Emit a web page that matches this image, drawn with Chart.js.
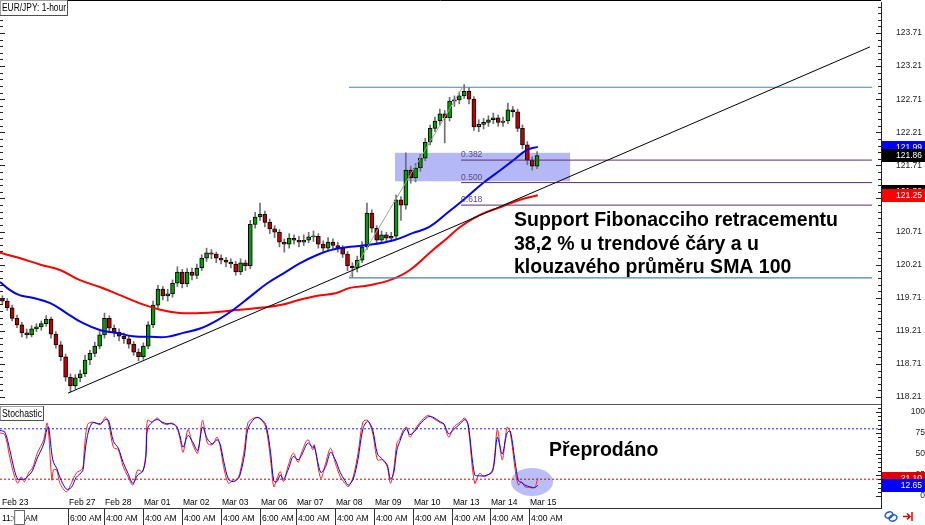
<!DOCTYPE html>
<html>
<head>
<meta charset="utf-8">
<title>EUR/JPY 1-hour</title>
<script src="https://cdn.jsdelivr.net/npm/chart.js@4.4.1/dist/chart.umd.min.js"></script>
<style>
  html, body { margin: 0; padding: 0; background: #fff; }
  #wrap { position: relative; width: 925px; height: 525px; overflow: hidden; }
  #priceBox { position: absolute; left: 0; top: 0; width: 925px; height: 405px; }
  #stochBox { position: absolute; left: 0; top: 404px; width: 925px; height: 121px; }
</style>
</head>
<body>
<div id="wrap">
  <div id="priceBox"><canvas id="priceChart"></canvas></div>
  <div id="stochBox"><canvas id="stochChart"></canvas></div>
</div>
<script>
// EUR/JPY 1-hour in 3-hour buckets (x axis = hours since Feb 23 11:00)
var opens = [
  119.70,119.66,119.56,119.40,119.30,119.18,119.15,119.24,119.27,119.32,
  119.39,119.16,119.00,118.82,118.51,118.38,118.50,118.56,118.77,118.87,
  118.98,119.15,119.40,119.25,119.19,119.13,119.09,119.01,118.89,118.82,
  118.98,119.30,119.60,119.84,119.74,119.77,119.93,120.10,119.92,120.10,
  120.05,120.16,120.31,120.39,120.37,120.31,120.28,120.25,120.22,120.10,
  120.24,120.19,120.82,120.93,120.97,120.85,120.75,120.70,120.55,120.52,
  120.61,120.58,120.55,120.58,120.63,120.64,120.52,120.46,120.55,120.50,
  120.46,120.37,120.19,120.16,120.28,120.48,120.99,120.76,120.58,120.66,
  120.61,120.64,121.19,121.11,121.64,121.52,121.67,121.82,122.06,122.27,
  122.38,122.49,122.43,122.68,122.70,122.76,122.83,122.71,122.29,122.33,
  122.36,122.40,122.43,122.36,122.38,122.55,122.52,122.27,122.02,121.79,
  121.70
];
var highs = [
  119.74,119.70,119.60,119.45,119.34,119.24,119.29,119.32,119.36,119.44,
  119.42,119.20,119.05,118.86,118.56,118.55,118.62,118.84,118.92,119.04,
  119.20,119.48,119.44,119.30,119.24,119.18,119.14,119.05,118.94,119.03,
  119.35,119.66,119.90,119.88,119.84,119.98,120.18,120.14,120.15,120.16,
  120.22,120.36,120.46,120.44,120.40,120.36,120.32,120.30,120.26,120.30,
  120.28,120.88,121.00,121.14,121.02,120.90,120.80,120.74,120.60,120.68,
  120.66,120.64,120.66,120.70,120.72,120.68,120.57,120.62,120.60,120.55,
  120.50,120.41,120.24,120.34,120.56,121.14,121.04,120.80,120.72,120.70,
  120.70,121.26,121.24,121.90,121.70,121.74,121.88,122.12,122.32,122.44,
  122.56,122.54,122.74,122.76,122.82,122.93,122.88,122.75,122.40,122.42,
  122.46,122.50,122.47,122.44,122.65,122.60,122.56,122.32,122.07,121.84,
  121.92
];
var lows = [
  119.62,119.52,119.36,119.26,119.12,119.10,119.12,119.20,119.22,119.28,
  119.10,118.95,118.76,118.45,118.29,118.33,118.44,118.52,118.70,118.82,
  118.94,119.10,119.18,119.12,119.06,119.02,118.95,118.84,118.76,118.78,
  118.94,119.26,119.55,119.68,119.66,119.72,119.88,119.86,119.88,119.98,
  120.00,120.12,120.26,120.30,120.24,120.22,120.18,120.16,120.05,120.06,
  120.12,120.15,120.76,120.88,120.78,120.68,120.62,120.48,120.40,120.46,
  120.52,120.48,120.50,120.54,120.56,120.46,120.40,120.42,120.44,120.40,
  120.32,120.12,120.02,120.10,120.24,120.44,120.70,120.52,120.54,120.55,
  120.56,120.60,120.88,121.05,121.44,121.46,121.62,121.78,122.02,122.22,
  122.32,122.05,122.38,122.60,122.64,122.72,122.64,122.24,122.22,122.26,
  122.30,122.34,122.30,122.30,122.34,122.44,122.22,121.96,121.72,121.64,
  121.66
];
var closes = [
  119.66,119.56,119.40,119.30,119.18,119.15,119.24,119.27,119.32,119.39,
  119.16,119.00,118.82,118.51,118.38,118.50,118.56,118.77,118.87,118.98,
  119.15,119.40,119.25,119.19,119.13,119.09,119.01,118.89,118.82,118.98,
  119.30,119.60,119.84,119.74,119.77,119.93,120.10,119.92,120.10,120.05,
  120.16,120.31,120.39,120.37,120.31,120.28,120.25,120.22,120.10,120.24,
  120.19,120.82,120.93,120.97,120.85,120.75,120.70,120.55,120.52,120.61,
  120.58,120.55,120.58,120.63,120.64,120.52,120.46,120.55,120.50,120.46,
  120.37,120.19,120.16,120.28,120.48,120.99,120.76,120.58,120.66,120.61,
  120.64,121.19,121.11,121.64,121.52,121.67,121.82,122.06,122.27,122.38,
  122.49,122.43,122.68,122.70,122.76,122.83,122.71,122.29,122.33,122.36,
  122.40,122.43,122.36,122.38,122.55,122.52,122.27,122.02,121.79,121.70,
  121.86
];

// moving averages (SMA 100 blue, SMA 200 red)
var sma100Hours = [0,6,12,20,31,41,51,62,72,82,93,103,113,124,134,144,154,165,175,185,196,204,216,228,243,255,265,276,288,298,309,317,325,332];
var sma100 = [119.95,119.83,119.75,119.71,119.63,119.48,119.33,119.22,119.18,119.13,119.12,119.12,119.18,119.25,119.37,119.53,119.72,119.93,120.08,120.23,120.36,120.43,120.48,120.51,120.58,120.69,120.78,120.99,121.23,121.44,121.64,121.79,121.94,121.99];
var sma200Hours = [0,12,25,37,49,62,74,86,99,111,124,136,148,161,173,185,196,207,216,228,241,253,267,276,284,296,309,321,332];
var sma200 = [120.39,120.31,120.21,120.13,119.98,119.87,119.75,119.63,119.53,119.48,119.48,119.50,119.53,119.56,119.60,119.68,119.74,119.78,119.86,119.90,119.98,120.13,120.43,120.61,120.78,120.96,121.08,121.19,121.26];

// drawn objects
var trendHours = [42, 537];
var trendValues = [118.27, 123.50];
var swingHours = [215.4, 538.3];
var swingValues = [122.89, 120.01];
var fibHours = [284.6, 538.3];
var fibLevels = [121.79, 121.45, 121.11];
var fibNames = ['0.382', '0.500', '0.618'];
var fibZone = { from: 243.8, to: 351.9, top: 121.90, bottom: 121.47 };

// stochastic %K (red) and %D (blue)
var stochHours = [0,3,6,9,11,13,15,18,20,23,27,29,30,32,33,35,37,41,44,47,51,52,54,57,62,65,67,70,73,76,79,82,85,88,90,91,94,97,100,103,106,109,111,113,116,119,122,125,128,131,134,136,138,141,144,146,148,151,153,157,160,164,167,169,171,173,175,178,181,184,186,190,193,194,198,201,204,207,210,213,215,218,221,224,227,230,233,236,239,241,243,245,247,249,251,253,256,259,264,267,272,274,277,280,284,287,289,293,296,299,304,307,310,313,315,318,320,322,324,327,330,332];
var stochK = [75,73,46,23,15,23,17,29,33,51,67,87,75,19,31,31,15,5,15,27,33,55,85,88,85,94,87,58,55,35,23,13,31,29,51,90,88,93,87,85,87,82,69,52,79,61,51,90,63,61,70,58,35,15,19,19,27,58,87,93,93,82,43,11,21,29,17,37,51,40,51,67,55,61,21,39,57,39,23,15,11,23,51,88,90,75,43,43,35,15,31,63,69,79,82,70,79,87,96,93,87,85,70,82,88,93,82,15,27,23,31,79,43,82,75,31,13,17,11,10,10,21.1];
var stochD = [78,76,55,30,20,20,20,25,30,45,62,80,82,50,40,33,22,8,10,22,30,45,72,87,86,91,90,65,57,40,27,15,25,29,45,80,88,91,88,86,86,83,72,58,72,64,54,82,68,62,67,61,42,20,17,19,24,50,80,92,93,85,52,18,17,25,20,32,47,43,48,63,58,59,28,35,52,43,28,18,13,20,44,80,89,79,50,44,37,20,27,55,66,76,80,73,77,85,94,94,88,86,74,79,86,91,85,25,24,24,29,70,50,75,77,40,18,16,13,11,10,12.65];
var stochLevels = [80, 20];
var oversoldMark = { hour: 328.4, value: 16.7 };

// axis labels
var priceTicks = [118.21,118.71,119.21,119.71,120.21,120.71,121.21,121.71,122.21,122.71,123.21,123.71];
var stochTicks = [0, 25, 50, 75, 100];
var tickHours = [0,42.2,64.2,88.1,112.3,136.2,160.5,182.7,206.8,230.9,255.1,278.8,302.5,326.7];
var dateLabels = ['Feb 23','Feb 27','Feb 28','Mar 01','Mar 02','Mar 03','Mar 06','Mar 07','Mar 08','Mar 09','Mar 10','Mar 13','Mar 14','Mar 15'];
var timeLabels = ['11:00 AM','6:00 AM','4:00 AM','4:00 AM','4:00 AM','4:00 AM','6:00 AM','4:00 AM','4:00 AM','4:00 AM','4:00 AM','4:00 AM','4:00 AM','4:00 AM'];

var noteLines = ['Support Fibonacciho retracementu', '38,2 % u trendové čáry a u', 'klouzavého průměru SMA 100'];
var stochNote = 'Přeprodáno';

var X_MAX = 543.8;
var FONT = "'Liberation Sans', Arial, sans-serif";
Chart.defaults.font.family = FONT;

function pts(xs, ys) {
  return xs.map(function (x, i) { return { x: x, y: ys[i] }; });
}
function flatLine(xs, v) {
  return [{ x: xs[0], y: v }, { x: xs[1], y: v }];
}
// right-hand axis: fixed width, no extra vertical padding for the labels
function fixAxis(s) {
  s.width = 44;
  s.paddingTop = 0;
  s.paddingBottom = 0;
}

function labelBox(ctx, x, y, w, h, text) {
  ctx.fillStyle = '#fff';
  ctx.fillRect(x, y, w, h);
  ctx.strokeStyle = '#a0a0a0';
  ctx.lineWidth = 1;
  ctx.strokeRect(x + 0.5, y + 0.5, w - 1, h - 1);
  ctx.strokeStyle = '#505050';
  ctx.beginPath();
  ctx.moveTo(x + w - 0.5, y); ctx.lineTo(x + w - 0.5, y + h - 0.5); ctx.lineTo(x, y + h - 0.5);
  ctx.stroke();
  ctx.fillStyle = '#000';
  ctx.font = '10px ' + FONT;
  ctx.textAlign = 'left';
  ctx.textBaseline = 'middle';
  ctx.fillText(text, x + 2, y + h / 2 + 0.5, w - 4);
}

function priceTag(ctx, area, py, text, bg) {
  ctx.fillStyle = bg;
  ctx.fillRect(area.right + 1, Math.round(py) - 6, 44, 13);
  ctx.fillStyle = '#fff';
  ctx.font = '8.5px ' + FONT;
  ctx.textAlign = 'right';
  ctx.textBaseline = 'middle';
  ctx.fillText(text, 922, Math.round(py) + 0.5);
}

var candleHours = closes.map(function (c, i) { return i * 3 + 1.5; });

var priceDecor = {
  id: 'priceDecor',
  beforeDatasetsDraw: function (chart) {
    var ctx = chart.ctx, xs = chart.scales.x, ys = chart.scales.y;
    var x0 = xs.getPixelForValue(fibZone.from), x1 = xs.getPixelForValue(fibZone.to);
    var y0 = ys.getPixelForValue(fibZone.top), y1 = ys.getPixelForValue(fibZone.bottom);
    ctx.save();
    ctx.fillStyle = 'rgba(120,125,240,0.55)';
    ctx.fillRect(x0, y0, x1 - x0, y1 - y0);
    ctx.restore();
  },
  afterDraw: function (chart) {
    var ctx = chart.ctx, xs = chart.scales.x, ys = chart.scales.y, area = chart.chartArea;
    ctx.save();
    // fib level names
    ctx.fillStyle = '#5c4a8a';
    ctx.font = '8.5px ' + FONT;
    ctx.textAlign = 'left';
    ctx.textBaseline = 'bottom';
    fibLevels.forEach(function (v, i) {
      ctx.fillText(fibNames[i], xs.getPixelForValue(fibHours[0]), ys.getPixelForValue(v) - 1);
    });
    // small ticks on both edges
    ctx.strokeStyle = '#222';
    ctx.lineWidth = 1;
    for (var k = -1; k <= 60; k++) {
      var py = Math.round(ys.getPixelForValue(priceTicks[0] + k * 0.1)) + 0.5;
      if (py < area.top || py > area.bottom) continue;
      var major = ((k % 5) + 5) % 5 === 0;
      ctx.beginPath();
      ctx.moveTo(area.right - (major ? 5 : 3), py); ctx.lineTo(area.right, py);
      ctx.moveTo(0, py); ctx.lineTo(major ? 5 : 3, py);
      ctx.stroke();
    }
    // frame
    ctx.strokeStyle = '#000';
    ctx.beginPath(); ctx.moveTo(0, 0.5); ctx.lineTo(area.right, 0.5); ctx.stroke();
    ctx.strokeStyle = '#666';
    ctx.beginPath(); ctx.moveTo(0, 404.5); ctx.lineTo(area.right, 404.5); ctx.stroke();
    // price tags on the axis
    priceTag(ctx, area, ys.getPixelForValue(sma100[sma100.length - 1]), sma100[sma100.length - 1].toFixed(2), '#0000ff');
    priceTag(ctx, area, ys.getPixelForValue(closes[closes.length - 1]), closes[closes.length - 1].toFixed(2), '#000');
    priceTag(ctx, area, ys.getPixelForValue(121.32), '121.32', '#000');
    priceTag(ctx, area, ys.getPixelForValue(sma200[sma200.length - 1]), '121.25', '#ff0000');
    // title box
    labelBox(ctx, 0, 0, 68, 16, 'EUR/JPY: 1-hour');
    // note
    ctx.fillStyle = '#000';
    ctx.font = 'bold 19.5px ' + FONT;
    ctx.textAlign = 'left';
    ctx.textBaseline = 'alphabetic';
    ctx.fillText(noteLines[0], 514, 226, 326);
    ctx.fillText(noteLines[1], 514, 249.5, 326);
    ctx.fillText(noteLines[2], 514, 273, 326);
    ctx.restore();
  }
};

var priceDatasets = [
  { type: 'line', data: pts(trendHours, trendValues), borderColor: '#000', borderWidth: 1, pointRadius: 0, order: 0 },
  { type: 'line', data: [{ x: swingHours[0], y: swingValues[1] }, { x: 285.5, y: swingValues[0] }], borderColor: '#a0a0a0', borderWidth: 1, pointRadius: 0, order: 0 },
  { type: 'line', data: flatLine(swingHours, swingValues[0]), borderColor: '#4682b4', borderWidth: 1.2, pointRadius: 0, order: 0 },
  { type: 'line', data: flatLine(swingHours, swingValues[1]), borderColor: '#4682b4', borderWidth: 1.2, pointRadius: 0, order: 0 },
  { type: 'line', data: flatLine(fibHours, fibLevels[0]), borderColor: '#5a2f6a', borderWidth: 1, pointRadius: 0, order: 0 },
  { type: 'line', data: flatLine(fibHours, fibLevels[1]), borderColor: '#5a2f6a', borderWidth: 1, pointRadius: 0, order: 0 },
  { type: 'line', data: flatLine(fibHours, fibLevels[2]), borderColor: '#5a2f6a', borderWidth: 1, pointRadius: 0, order: 0 },
  { type: 'line', data: pts(sma100Hours, sma100), borderColor: '#0000ff', borderWidth: 2, pointRadius: 0, tension: 0.4, order: 1 },
  { type: 'line', data: pts(sma200Hours, sma200), borderColor: '#ff0000', borderWidth: 2, pointRadius: 0, tension: 0.4, order: 1 },
  {
    type: 'bar',
    data: candleHours.map(function (h, i) { return { x: h, y: [opens[i], closes[i]] }; }),
    backgroundColor: function (c) { return closes[c.dataIndex] >= opens[c.dataIndex] ? '#00a000' : '#c00000'; },
    borderColor: '#000',
    borderWidth: 1,
    borderSkipped: false,
    barThickness: 4,
    minBarLength: 1,
    grouped: false,
    order: 2
  },
  {
    type: 'bar',
    data: candleHours.map(function (h, i) { return { x: h, y: [lows[i], highs[i]] }; }),
    backgroundColor: '#707070',
    borderWidth: 0,
    barThickness: 1,
    grouped: false,
    order: 3
  }
];

new Chart(document.getElementById('priceChart'), {
  type: 'bar',
  data: { datasets: priceDatasets },
  options: {
    responsive: true,
    maintainAspectRatio: false,
    animation: false,
    layout: { autoPadding: false, padding: { top: 2, bottom: 1, left: 0, right: 0 } },
    plugins: { legend: { display: false }, tooltip: { enabled: false } },
    scales: {
      x: { type: 'linear', min: 0, max: X_MAX, offset: false, display: false, grid: { offset: false } },
      y: {
        position: 'right',
        min: 118.106,
        max: 124.178,
        beginAtZero: false,
        afterBuildTicks: function (s) { s.ticks = priceTicks.map(function (v) { return { value: v }; }); },
        afterFit: fixAxis,
        grid: { drawOnChartArea: false, drawTicks: false },
        border: { color: '#222', width: 1 },
        ticks: {
          padding: 15,
          color: '#222',
          font: { size: 8.5 },
          callback: function (v) { return v.toFixed(2); }
        }
      }
    }
  },
  plugins: [priceDecor]
});

var stochDecor = {
  id: 'stochDecor',
  beforeDatasetsDraw: function (chart) {
    var ctx = chart.ctx, xs = chart.scales.x, ys = chart.scales.y;
    ctx.save();
    ctx.fillStyle = 'rgba(100,110,240,0.45)';
    ctx.beginPath();
    ctx.ellipse(xs.getPixelForValue(oversoldMark.hour), ys.getPixelForValue(oversoldMark.value), 21, 14, 0, 0, Math.PI * 2);
    ctx.fill();
    ctx.restore();
  },
  afterDraw: function (chart) {
    var ctx = chart.ctx, xs = chart.scales.x, ys = chart.scales.y, area = chart.chartArea;
    ctx.save();
    // minor ticks
    ctx.strokeStyle = '#222';
    ctx.lineWidth = 1;
    for (var v = 0; v <= 105; v += 5) {
      var py = Math.round(ys.getPixelForValue(v)) + 0.5;
      var major = v % 25 === 0;
      ctx.beginPath();
      ctx.moveTo(area.right - (major ? 5 : 3), py); ctx.lineTo(area.right, py);
      ctx.stroke();
    }
    // panel frame
    ctx.strokeStyle = '#555';
    ctx.beginPath(); ctx.moveTo(0, 0.5); ctx.lineTo(area.right, 0.5); ctx.stroke();
    ctx.strokeStyle = '#333';
    ctx.beginPath(); ctx.moveTo(0, area.bottom + 0.5); ctx.lineTo(area.right + 0.5, area.bottom + 0.5); ctx.stroke();
    // value tags
    priceTag(ctx, area, ys.getPixelForValue(stochK[stochK.length - 1]), stochK[stochK.length - 1].toFixed(2), '#e00000');
    priceTag(ctx, area, ys.getPixelForValue(stochD[stochD.length - 1]), stochD[stochD.length - 1].toFixed(2), '#0000ff');
    // date row and time row
    ctx.font = '8.5px ' + FONT;
    ctx.textAlign = 'left';
    ctx.textBaseline = 'middle';
    tickHours.forEach(function (h, i) {
      var px = Math.round(xs.getPixelForValue(h));
      ctx.fillStyle = '#000';
      ctx.fillText(dateLabels[i], i === 0 ? 2 : px + 1, 99);
      ctx.fillText(timeLabels[i], i === 0 ? 2 : px + 2, 115);
      if (i > 0) {
        ctx.strokeStyle = '#333';
        ctx.beginPath(); ctx.moveTo(px + 0.5, area.bottom); ctx.lineTo(px + 0.5, 121); ctx.stroke();
      }
    });
    // the cursor box over the first time label
    var w0 = ctx.measureText('11:').width;
    var w1 = ctx.measureText('00 ').width;
    ctx.fillStyle = '#fff';
    ctx.fillRect(2 + w0 + 1, 106, w1 - 1, 15);
    ctx.strokeStyle = '#666';
    ctx.strokeRect(2 + w0 + 1.5, 106.5, w1 - 2, 14);
    // panel name
    labelBox(ctx, 0, 2, 44, 15, 'Stochastic');
    // note
    ctx.fillStyle = '#000';
    ctx.font = 'bold 19.5px ' + FONT;
    ctx.textBaseline = 'alphabetic';
    ctx.fillText(stochNote, 549, 52);
    // corner icons
    ctx.lineWidth = 1.5;
    ctx.strokeStyle = '#1e5ad8';
    ctx.beginPath(); ctx.ellipse(889, 111, 4, 3, -0.4, 0, Math.PI * 2); ctx.stroke();
    ctx.beginPath(); ctx.ellipse(893, 114, 4, 3, -0.4, 0, Math.PI * 2); ctx.stroke();
    ctx.strokeStyle = '#e00000';
    ctx.beginPath();
    ctx.moveTo(903, 112.5); ctx.lineTo(910, 112.5);
    ctx.moveTo(907, 109.5); ctx.lineTo(910, 112.5); ctx.lineTo(907, 115.5);
    ctx.moveTo(912, 108); ctx.lineTo(912, 117);
    ctx.stroke();
    ctx.restore();
  }
};

new Chart(document.getElementById('stochChart'), {
  type: 'line',
  data: {
    datasets: [
      { data: pts(stochHours, stochD), borderColor: '#0000ff', borderWidth: 1, pointRadius: 0, tension: 0.3 },
      { data: pts(stochHours, stochK), borderColor: '#ff2020', borderWidth: 1, pointRadius: 0, tension: 0.3 },
      { data: flatLine([0, X_MAX], stochLevels[0]), borderColor: '#2020e0', borderWidth: 1, borderDash: [2, 2], pointRadius: 0 },
      { data: flatLine([0, X_MAX], stochLevels[1]), borderColor: '#d00000', borderWidth: 1, borderDash: [2, 2], pointRadius: 0 }
    ]
  },
  options: {
    responsive: true,
    maintainAspectRatio: false,
    animation: false,
    layout: { autoPadding: false, padding: { top: 1, bottom: 17, left: 0, right: 0 } },
    plugins: { legend: { display: false }, tooltip: { enabled: false } },
    scales: {
      x: { type: 'linear', min: 0, max: X_MAX, display: false },
      y: {
        position: 'right',
        min: -14.3,
        max: 108.3,
        afterBuildTicks: function (s) { s.ticks = stochTicks.map(function (v) { return { value: v }; }); },
        afterFit: fixAxis,
        grid: { drawOnChartArea: false, drawTicks: false },
        border: { color: '#222', width: 1 },
        ticks: { padding: 16, crossAlign: 'far', color: '#222', font: { size: 8.5 } }
      }
    }
  },
  plugins: [stochDecor]
});
</script>
</body>
</html>
